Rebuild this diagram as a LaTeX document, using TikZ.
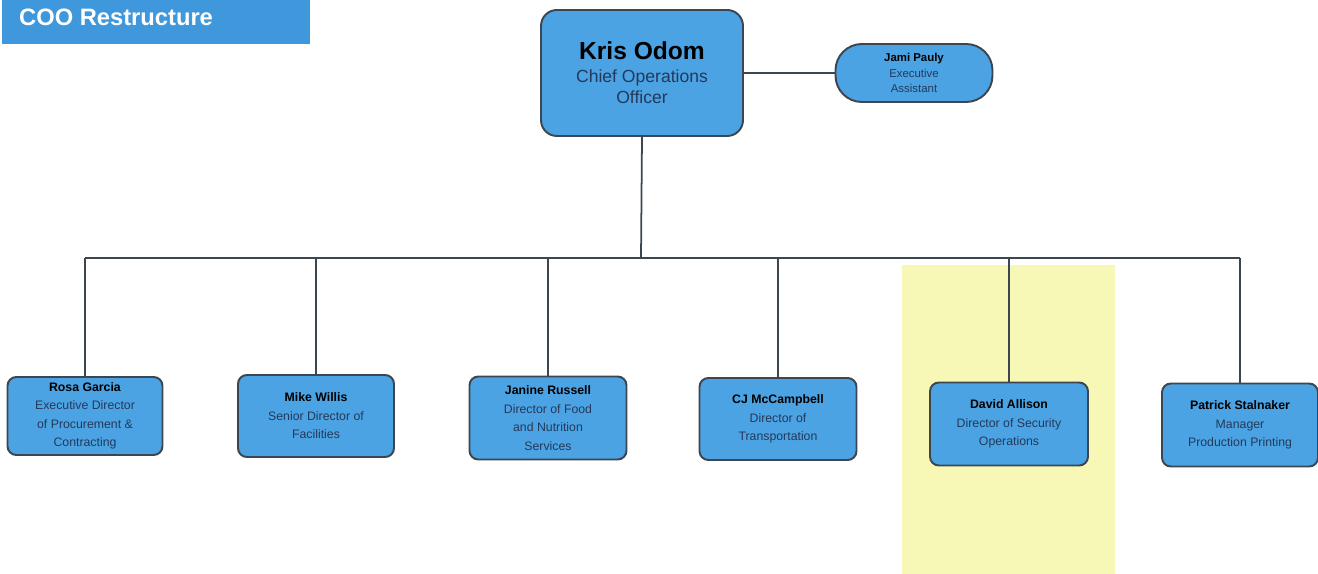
\documentclass[tikz,border=0pt]{standalone}
\usepackage{fontspec}
\setmainfont{Liberation Sans}
\usepackage{xcolor}
\definecolor{boxblue}{HTML}{4BA3E3}
\definecolor{titleblue}{HTML}{3F98DC}
\definecolor{edgegray}{HTML}{3C4650}
\definecolor{jobtext}{HTML}{24395A}
\definecolor{hilite}{HTML}{F7F8B6}

\begin{document}
\begin{tikzpicture}[x=0.02cm, y=-0.02cm,
    person/.style={draw=edgegray, line width=1.1pt, fill=boxblue, rounded corners=5pt,
        align=center, inner sep=0pt, font=\fontsize{7}{10.5}\selectfont},
    link/.style={draw=edgegray, line width=1pt}]
        \useasboundingbox (0,0) rectangle (1318,574);

        % highlight behind security
        \fill[hilite] (902,265) rectangle (1115,574);

        % title
        \node[fill=titleblue, minimum width=6.16cm, minimum height=0.88cm, inner sep=0pt] (title) at (156,22) {};
        \node[anchor=west, text=white, font=\fontsize{13.5}{16}\selectfont\bfseries] (titletext) at (13,17) {COO Restructure};

        % top
        \node[person, rounded corners=9pt, minimum width=4.04cm, minimum height=2.52cm,
            font=\fontsize{10}{12}\selectfont] (kris) at (642,73)
            {{\fontsize{14}{17}\selectfont\bfseries Kris Odom}\\[1pt]
             \textcolor{jobtext}{Chief Operations}\\\textcolor{jobtext}{Officer}};
        \node[person, rounded corners=15pt, minimum width=3.14cm, minimum height=1.16cm,
            font=\fontsize{6.5}{8.8}\selectfont] (jami) at (914,73)
            {\textbf{Jami Pauly}\\\textcolor{jobtext}{Executive}\\\textcolor{jobtext}{Assistant}};

        % directors
        \node[person, minimum width=3.1cm, minimum height=1.56cm] (rosa) at (85,416)
            {\textbf{Rosa Garcia}\\\textcolor{jobtext}{Executive Director}\\\textcolor{jobtext}{of Procurement \&}\\\textcolor{jobtext}{Contracting}};
        \node[person, minimum width=3.12cm, minimum height=1.64cm] (mike) at (316,416)
            {\textbf{Mike Willis}\\\textcolor{jobtext}{Senior Director of}\\\textcolor{jobtext}{Facilities}};
        \node[person, minimum width=3.14cm, minimum height=1.66cm] (janine) at (548,418)
            {\textbf{Janine Russell}\\\textcolor{jobtext}{Director of Food}\\\textcolor{jobtext}{and Nutrition}\\\textcolor{jobtext}{Services}};
        \node[person, minimum width=3.14cm, minimum height=1.64cm] (cj) at (778,419)
            {\textbf{CJ McCampbell}\\\textcolor{jobtext}{Director of}\\\textcolor{jobtext}{Transportation}};
        \node[person, minimum width=3.16cm, minimum height=1.66cm] (david) at (1009,424)
            {\textbf{David Allison}\\\textcolor{jobtext}{Director of Security}\\\textcolor{jobtext}{Operations}};
        \node[person, minimum width=3.12cm, minimum height=1.66cm] (patrick) at (1240,425)
            {\textbf{Patrick Stalnaker}\\\textcolor{jobtext}{Manager}\\\textcolor{jobtext}{Production Printing}};

        % lines
        \coordinate (bus) at (641,258);
        \draw[link] (kris) -- (jami);
        \draw[link] (kris.south) -- (bus);
        \draw[link] (rosa.north |- bus) -- (patrick.north |- bus);
        \foreach \who in {rosa,mike,janine,cj,david,patrick}
            \draw[link] (\who.north |- bus) -- (\who.north);
\end{tikzpicture}
\end{document}
